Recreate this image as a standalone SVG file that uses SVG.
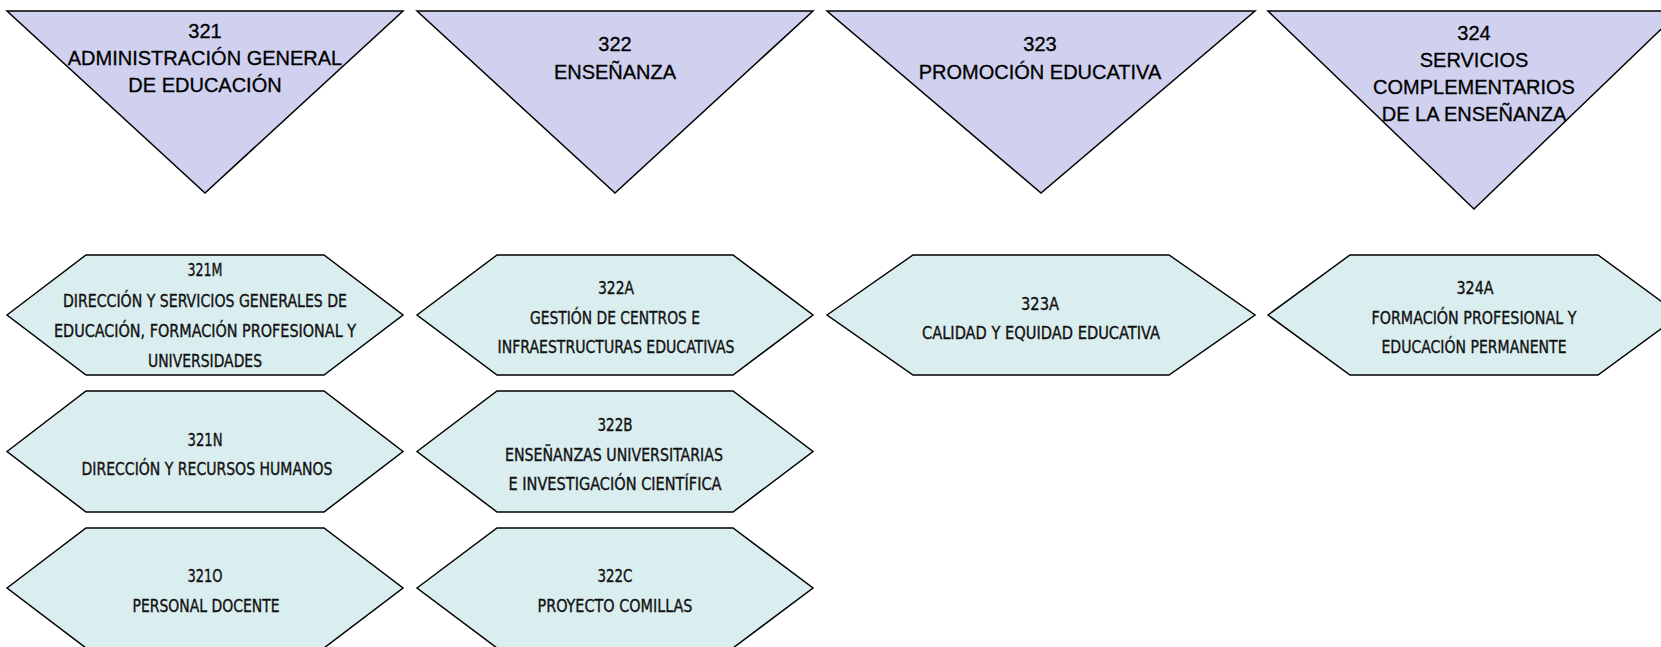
<svg xmlns="http://www.w3.org/2000/svg" width="1661" height="647" viewBox="0 0 1661 647">
<style>
.tri{fill:#D0D0EF;stroke:#000;stroke-width:1.5;stroke-linejoin:miter}
.hex{fill:#DAEDEF;stroke:#000;stroke-width:1.5}
.tt{font-family:"Liberation Sans",Arial,sans-serif;font-size:20px;fill:#000;stroke:#000;stroke-width:0.3;text-anchor:middle}
.ht{font-family:"Liberation Sans Narrow","DejaVu Sans Condensed","Liberation Sans",sans-serif;font-size:18px;fill:#111;stroke:#111;stroke-width:0.35;text-anchor:middle}
</style>
<rect width="1661" height="647" fill="#fff"/>
<g id="connectors"></g>
<g id="n321">
<polygon class="tri" points="7,11 403,11 205,193"/>
<text class="tt" x="205" y="38">321</text>
<text class="tt" x="205" y="65">ADMINISTRACIÓN GENERAL</text>
<text class="tt" x="205" y="92">DE EDUCACIÓN</text>
</g>
<g id="n322">
<polygon class="tri" points="417,11 813,11 615,193"/>
<text class="tt" x="615" y="51">322</text>
<text class="tt" x="615" y="78.5">ENSEÑANZA</text>
</g>
<g id="n323">
<polygon class="tri" points="827,11 1255,11 1041,193"/>
<text class="tt" x="1040" y="51">323</text>
<text class="tt" x="1040" y="79">PROMOCIÓN EDUCATIVA</text>
</g>
<g id="n324">
<polygon class="tri" points="1268,11 1680,11 1474,209"/>
<text class="tt" x="1474" y="40">324</text>
<text class="tt" x="1474" y="66.5">SERVICIOS</text>
<text class="tt" x="1474" y="93.5">COMPLEMENTARIOS</text>
<text class="tt" x="1474" y="121">DE LA ENSEÑANZA</text>
</g>
<g id="n321M">
<polygon class="hex" points="7,315 86,255 324,255 403,315 324,375 86,375"/>
<text class="ht" x="205" y="276" textLength="35" lengthAdjust="spacingAndGlyphs">321M</text>
<text class="ht" x="205" y="307" textLength="284" lengthAdjust="spacingAndGlyphs">DIRECCIÓN Y SERVICIOS GENERALES DE</text>
<text class="ht" x="205" y="337" textLength="302" lengthAdjust="spacingAndGlyphs">EDUCACIÓN, FORMACIÓN PROFESIONAL Y</text>
<text class="ht" x="205" y="367" textLength="114" lengthAdjust="spacingAndGlyphs">UNIVERSIDADES</text>
</g>
<g id="n321N">
<polygon class="hex" points="7,451.5 86,391 324,391 403,451.5 324,512 86,512"/>
<text class="ht" x="205" y="446" textLength="35" lengthAdjust="spacingAndGlyphs">321N</text>
<text class="ht" x="207" y="475" textLength="251" lengthAdjust="spacingAndGlyphs">DIRECCIÓN Y RECURSOS HUMANOS</text>
</g>
<g id="n321O">
<polygon class="hex" points="7,588 86,528 324,528 403,588 324,648 86,648"/>
<text class="ht" x="205" y="582" textLength="35" lengthAdjust="spacingAndGlyphs">321O</text>
<text class="ht" x="206" y="612" textLength="147" lengthAdjust="spacingAndGlyphs">PERSONAL DOCENTE</text>
</g>
<g id="n322A">
<polygon class="hex" points="417,315 497,255 733,255 813,315 733,375 497,375"/>
<text class="ht" x="616" y="294" textLength="36" lengthAdjust="spacingAndGlyphs">322A</text>
<text class="ht" x="615" y="324" textLength="170" lengthAdjust="spacingAndGlyphs">GESTIÓN DE CENTROS E</text>
<text class="ht" x="616" y="353" textLength="237" lengthAdjust="spacingAndGlyphs">INFRAESTRUCTURAS EDUCATIVAS</text>
</g>
<g id="n322B">
<polygon class="hex" points="417,451.5 497,391 733,391 813,451.5 733,512 497,512"/>
<text class="ht" x="615" y="431" textLength="35" lengthAdjust="spacingAndGlyphs">322B</text>
<text class="ht" x="614" y="461" textLength="218" lengthAdjust="spacingAndGlyphs">ENSEÑANZAS UNIVERSITARIAS</text>
<text class="ht" x="615" y="490" textLength="213" lengthAdjust="spacingAndGlyphs">E INVESTIGACIÓN CIENTÍFICA</text>
</g>
<g id="n322C">
<polygon class="hex" points="417,588 497,528 733,528 813,588 733,648 497,648"/>
<text class="ht" x="615" y="582" textLength="35" lengthAdjust="spacingAndGlyphs">322C</text>
<text class="ht" x="615" y="612" textLength="155" lengthAdjust="spacingAndGlyphs">PROYECTO COMILLAS</text>
</g>
<g id="n323A">
<polygon class="hex" points="827,315 913,255 1169,255 1255,315 1169,375 913,375"/>
<text class="ht" x="1040" y="310" textLength="38" lengthAdjust="spacingAndGlyphs">323A</text>
<text class="ht" x="1041" y="339" textLength="238" lengthAdjust="spacingAndGlyphs">CALIDAD Y EQUIDAD EDUCATIVA</text>
</g>
<g id="n324A">
<polygon class="hex" points="1268,315 1350,255 1598,255 1680,315 1598,375 1350,375"/>
<text class="ht" x="1475" y="294" textLength="37" lengthAdjust="spacingAndGlyphs">324A</text>
<text class="ht" x="1474" y="324" textLength="205" lengthAdjust="spacingAndGlyphs">FORMACIÓN PROFESIONAL Y</text>
<text class="ht" x="1474" y="353" textLength="185" lengthAdjust="spacingAndGlyphs">EDUCACIÓN PERMANENTE</text>
</g>
</svg>
